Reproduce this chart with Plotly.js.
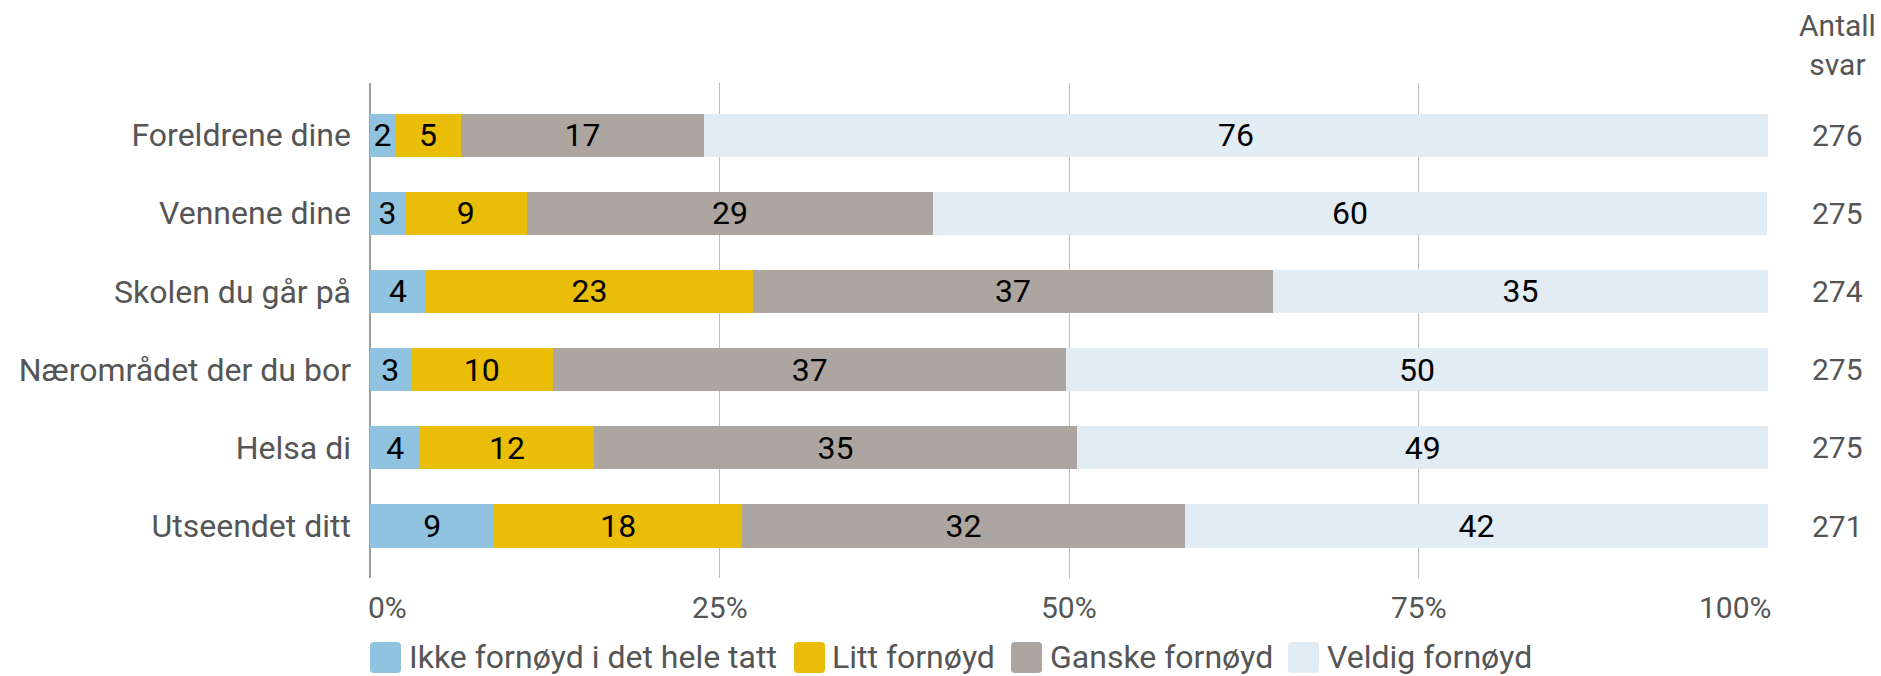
<!DOCTYPE html>
<html>
<head>
<meta charset="utf-8">
<script src="https://cdn.plot.ly/plotly-3.0.1.min.js"></script>
<style>html,body{margin:0;padding:0;background:#fff;}#chart{width:1881px;height:676px;}</style>
</head>
<body>
<div id="chart"></div>
<script>
// ---- data ----
const categories = ["Foreldrene dine", "Vennene dine", "Skolen du går på", "Nærområdet der du bor", "Helsa di", "Utseendet ditt"];
const seriesNames = ["Ikke fornøyd i det hele tatt", "Litt fornøyd", "Ganske fornøyd", "Veldig fornøyd"];
const ikkeFornoyd   = [1.8, 2.5, 4.0, 2.9, 3.6, 8.9];
const littFornoyd   = [4.7, 8.7, 23.4, 10.2, 12.4, 17.7];
const ganskeFornoyd = [17.4, 29.1, 37.2, 36.7, 34.6, 31.7];
const veldigFornoyd = [76.1, 59.6, 35.4, 50.2, 49.4, 41.7];
const antallSvar = [276, 275, 274, 275, 275, 271];
const xTickVals = [0, 25, 50, 75, 100];
const xTickText = ["0%", "25%", "50%", "75%", "100%"];
const colors = ["#8FC3E0", "#EABD08", "#ADA59F", "#E2ECF5"];

// ---- layout helpers ----
const W = 1881, H = 676;
const M = {l: 370, r: 113, t: 83, b: 98};
const PW = W - M.l - M.r, PH = H - M.t - M.b;
const px2x = p => (p - M.l) / PW;
const py2y = p => (H - M.b - p) / PH;
const FONT = "Roboto, 'Open Sans', sans-serif";
const TXT = "#555555";

const seriesValues = [ikkeFornoyd, littFornoyd, ganskeFornoyd, veldigFornoyd];
const traces = seriesValues.map((vals, i) => ({
  type: "bar",
  orientation: "h",
  name: seriesNames[i],
  y: categories,
  x: vals,
  text: vals.map(v => String(Math.round(v))),
  textposition: "inside",
  insidetextanchor: "middle",
  textangle: 0,
  constraintext: "none",
  textfont: {family: FONT, size: 32, color: "#000000"},
  marker: {color: colors[i], line: {width: 0}},
  hoverinfo: "skip",
  showlegend: false
}));

const annotations = [];
// x tick labels
xTickVals.forEach((v, i) => {
  let anchor = "center", shift = 0;
  if (i === 0) { anchor = "left"; shift = -4; }
  if (i === xTickVals.length - 1) { anchor = "right"; shift = 6; }
  annotations.push({
    xref: "x", yref: "paper", x: v, y: py2y(607), xanchor: anchor, yanchor: "middle",
    xshift: shift, text: xTickText[i], showarrow: false,
    font: {family: FONT, size: 30, color: TXT}
  });
});
// response counts
categories.forEach((c, i) => {
  annotations.push({
    xref: "paper", yref: "y", x: px2x(1837), y: c, xanchor: "center", yanchor: "middle",
    text: String(antallSvar[i]), showarrow: false,
    font: {family: FONT, size: 30, color: TXT}
  });
});
// header
annotations.push({
  xref: "paper", yref: "paper", x: px2x(1837), y: py2y(45), xanchor: "center", yanchor: "middle",
  text: "Antall<br>svar", align: "center", showarrow: false,
  font: {family: FONT, size: 30, color: TXT}
});

// legend (custom, large swatches)
const legSq = [370, 794, 1011, 1288];
const legTxt = [407, 830, 1048, 1325];
const shapes = [];
function roundRect(x0, y0, x1, y1, r) {
  const X = px2x, Y = py2y;
  return `M${X(x0 + r)},${Y(y0)} L${X(x1 - r)},${Y(y0)} Q${X(x1)},${Y(y0)} ${X(x1)},${Y(y0 + r)} ` +
         `L${X(x1)},${Y(y1 - r)} Q${X(x1)},${Y(y1)} ${X(x1 - r)},${Y(y1)} ` +
         `L${X(x0 + r)},${Y(y1)} Q${X(x0)},${Y(y1)} ${X(x0)},${Y(y1 - r)} ` +
         `L${X(x0)},${Y(y0 + r)} Q${X(x0)},${Y(y0)} ${X(x0 + r)},${Y(y0)} Z`;
}
seriesNames.forEach((n, i) => {
  shapes.push({
    type: "path", xref: "paper", yref: "paper",
    path: roundRect(legSq[i], 642, legSq[i] + 31, 673, 4),
    fillcolor: colors[i], line: {width: 0}
  });
  annotations.push({
    xref: "paper", yref: "paper", x: px2x(legTxt[i]), y: py2y(657), xanchor: "left", yanchor: "middle",
    text: n, showarrow: false, font: {family: FONT, size: 32, color: TXT}
  });
});

const layout = {
  width: W, height: H,
  margin: M,
  barmode: "stack",
  bargap: 0.45,
  paper_bgcolor: "#ffffff",
  plot_bgcolor: "#ffffff",
  font: {family: FONT, size: 30, color: TXT},
  uniformtext: {mode: "show", minsize: 32},
  xaxis: {
    range: [0, 100], fixedrange: true,
    tickvals: xTickVals, showticklabels: false, ticks: "",
    showgrid: true, gridcolor: "#BDBDBD", gridwidth: 1,
    zeroline: true, zerolinecolor: "#9E9E9E", zerolinewidth: 2,
    showline: false
  },
  yaxis: {
    type: "category",
    categoryorder: "array", categoryarray: categories,
    range: [5.665, -0.665], fixedrange: true,
    showgrid: false, zeroline: false, showline: false, ticks: "",
    ticklabelstandoff: 18,
    tickfont: {family: FONT, size: 32, color: TXT}
  },
  showlegend: false,
  annotations: annotations,
  shapes: shapes
};

Plotly.newPlot("chart", traces, layout, {displayModeBar: false, staticPlot: true});
</script>
</body>
</html>
